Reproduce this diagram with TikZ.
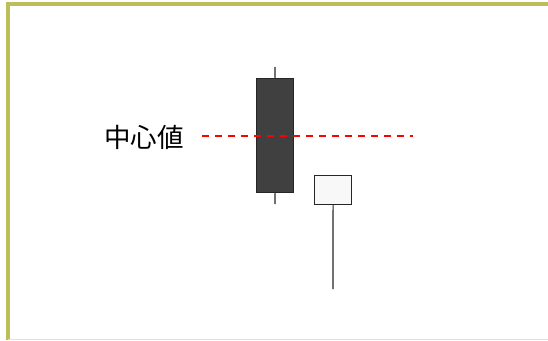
\documentclass[tikz,border=0pt]{standalone}
\usepackage{fontspec}
\newfontfamily\cjk{Noto Sans CJK JP}
\definecolor{olive1}{HTML}{BDBD5A}
\definecolor{darkbody}{HTML}{404040}
\definecolor{lightbody}{HTML}{F8F8F8}
\tikzset{
  candle/.style={draw=black!85, line width=1.2pt},
  wick/.style={draw=black!85, line width=1.2pt},
  frameline/.style={draw=olive1, line width=4.5pt},
  centerline/.style={draw=red, dashed, line width=1.3pt, dash pattern=on 7pt off 6pt}
}
\begin{document}
\begin{tikzpicture}[x=1pt,y=-1pt]
\useasboundingbox (0,0) rectangle (548,340);
\fill[white] (0,0) rectangle (548,340);
% frame
\draw[frameline] (8,340) -- (8,4) -- (548,4);
\draw[draw=olive1!40, line width=1pt] (8,339.5) -- (548,339.5);
% dark candle
\coordinate (dtop) at (275,67);
\coordinate (dbot) at (275,204);
\node[candle, fill=darkbody, minimum width=37pt, minimum height=114pt, inner sep=0pt, anchor=north west] (dark) at (256,78) {};
\draw[wick] (dtop) -- (dark.north);
\draw[wick] (dark.south) -- (dbot);
% light candle
\coordinate (lbot) at (333,289);
\node[candle, fill=lightbody, minimum width=37pt, minimum height=29pt, inner sep=0pt, anchor=north west] (light) at (314,175) {};
\draw[wick] (light.south) -- (lbot);
% center line
\coordinate (cl1) at (202,136);
\coordinate (cl2) at (413,136);
\draw[centerline] (cl1) -- (cl2);
\node[font=\cjk\fontsize{26.5}{30}\selectfont, anchor=center] (label) at (144,137) {中心値};
\end{tikzpicture}
\end{document}
